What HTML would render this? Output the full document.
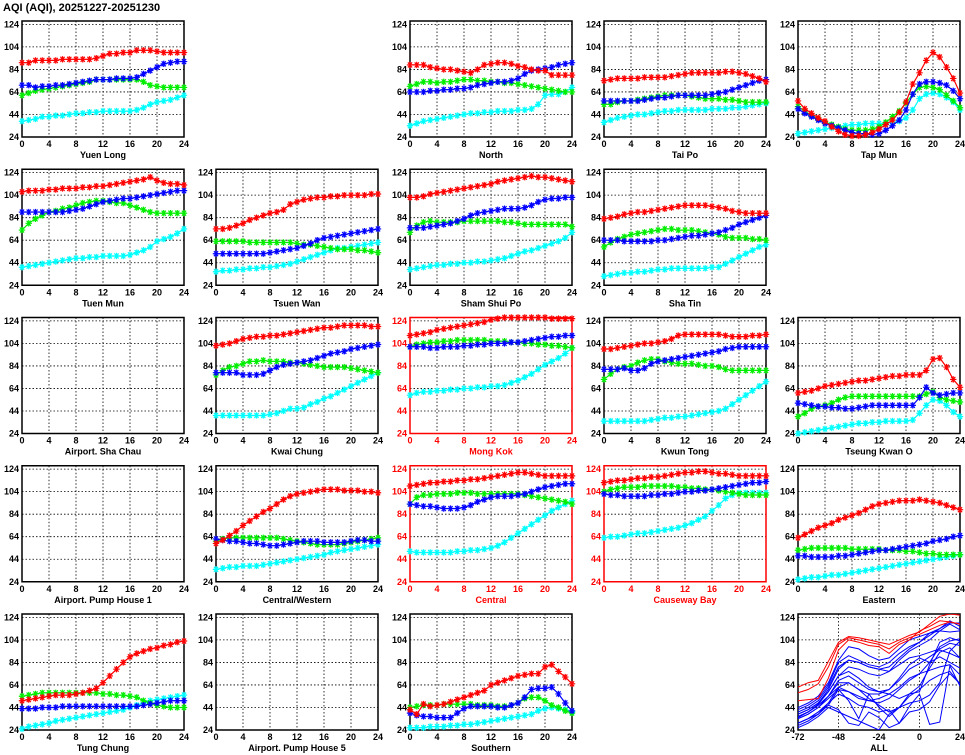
<!DOCTYPE html>
<html><head><meta charset="utf-8"><style>
body{margin:0;background:#fff;}
svg{display:block;font-family:"Liberation Sans",sans-serif;}
</style></head><body>
<svg id="chart" width="965" height="755" viewBox="0 0 965 755" xmlns="http://www.w3.org/2000/svg">
<text x="3" y="11" font-size="11" font-weight="bold">AQI (AQI), 20251227-20251230</text>
</svg>
<script>
const stationNames=["Yuen Long","North","Tai Po","Tap Mun","Tuen Mun","Tsuen Wan","Sham Shui Po","Sha Tin","Airport. Sha Chau","Kwai Chung","Mong Kok","Kwun Tong","Tseung Kwan O","Airport. Pump House 1","Central/Western","Central","Causeway Bay","Eastern","Tung Chung","Airport. Pump House 5","Southern"];
const stationRows=[0,0,0,0,1,1,1,1,2,2,2,2,2,3,3,3,3,3,4,4,4];
const stationCols=[0,2,3,4,0,1,2,3,0,1,2,3,4,0,1,2,3,4,0,1,2];
const highlighted=["Mong Kok","Central","Causeway Bay"];
const hours=[0,1,2,3,4,5,6,7,8,9,10,11,12,13,14,15,16,17,18,19,20,21,22,23,24];
const yTicks=[24,44,64,84,104,124];
const xTicks=[0,4,8,12,16,20,24];
const redValues=[
[90,90,92,92,92,92,93,93,93,93,93,94,96,98,98,99,99,101,101,101,100,99,99,99,99],
[88,88,88,86,85,84,84,83,82,81,84,88,89,90,90,89,87,86,84,83,83,79,79,79,79],
[74,75,76,76,76,76,77,77,77,77,78,79,80,81,81,81,81,81,82,82,81,80,78,76,73],
[56,49,45,41,38,33,29,26,25,25,26,28,31,35,39,46,55,71,81,92,99,95,86,76,63],
[107,108,108,108,109,109,110,110,110,111,111,112,112,113,114,115,116,117,118,120,117,115,114,114,113],
[74,74,75,77,79,82,84,86,88,89,91,96,98,100,101,102,102,103,103,104,104,104,104,105,105],
[102,102,103,105,106,107,108,109,110,111,112,113,114,116,117,118,119,120,121,120,120,119,118,117,116],
[83,84,85,87,88,89,89,90,91,92,93,94,95,95,95,95,94,93,92,90,89,88,88,88,88],
[],
[102,103,104,106,108,109,110,110,111,111,112,113,114,115,116,117,118,118,119,120,120,120,120,119,119],
[111,112,113,114,116,117,118,119,120,121,122,123,125,126,127,127,127,127,127,127,127,126,126,126,126],
[99,99,100,101,102,103,104,104,105,106,108,111,112,112,112,112,112,112,111,110,110,110,111,111,112],
[60,61,62,64,66,67,68,69,70,71,71,72,73,74,75,75,76,76,76,80,90,91,83,72,65],
[],
[58,61,65,69,74,78,82,86,89,93,97,100,102,103,104,105,106,106,106,105,105,105,104,104,103],
[109,110,111,112,112,113,113,114,114,115,115,116,117,118,119,120,121,121,120,119,118,118,118,118,118],
[112,113,114,114,115,116,116,117,117,118,119,120,121,121,122,122,121,120,120,119,118,118,118,118,118],
[63,66,69,72,74,76,79,81,83,85,88,91,93,94,95,96,96,96,97,96,95,94,92,90,88],
[50,51,52,53,54,55,55,55,56,57,59,61,66,72,78,84,89,92,94,96,97,99,100,102,103],
[],
[42,38,47,45,46,47,49,51,53,55,57,59,64,66,68,70,72,73,74,74,80,82,76,71,65]];
const blueValues=[
[70,70,68,69,69,70,70,71,72,73,74,75,75,75,76,76,76,77,80,83,86,89,90,91,91],
[64,64,64,65,65,66,66,67,67,68,70,71,72,73,73,74,76,80,83,84,85,86,88,89,90],
[56,56,56,56,56,56,57,58,59,59,60,61,61,61,61,61,62,63,64,66,68,70,72,74,75],
[49,45,42,39,36,34,32,30,28,27,27,26,27,30,34,39,48,62,71,73,73,72,70,65,58],
[89,89,89,89,89,89,89,90,91,92,94,96,98,99,100,101,101,102,103,104,105,106,107,108,108],
[52,52,52,52,52,52,52,52,53,54,55,56,57,59,61,64,66,67,68,69,70,71,72,73,74],
[75,75,75,76,77,78,79,81,83,86,88,89,90,91,92,92,92,93,95,98,100,101,101,102,102],
[64,64,64,63,63,63,63,63,64,64,65,66,67,68,68,69,70,71,73,75,78,80,82,84,86],
[],
[78,78,78,78,76,76,76,77,80,83,85,86,87,88,89,91,93,95,96,97,99,100,101,102,103],
[101,101,101,100,100,101,101,101,102,102,103,103,104,104,104,105,105,106,107,108,109,110,110,111,111],
[81,81,81,82,80,80,82,86,88,89,90,91,92,93,94,95,96,97,99,100,101,101,101,101,101],
[51,50,49,48,48,47,47,46,46,47,48,49,49,49,49,49,49,49,56,65,60,58,59,60,60],
[],
[62,61,60,60,59,58,58,57,56,56,57,58,59,60,60,60,59,59,59,59,60,61,61,60,60],
[93,92,91,91,90,89,89,89,90,92,95,97,99,100,100,100,101,102,104,106,108,109,110,111,111],
[102,101,101,100,100,100,100,101,101,102,102,103,104,104,105,105,106,107,108,109,110,111,112,112,113],
[47,47,46,46,46,46,47,47,48,49,50,51,52,52,53,54,55,56,57,58,60,61,62,64,65],
[43,43,43,44,44,44,45,45,45,45,45,45,45,45,45,45,45,45,46,47,48,49,50,50,50],
[],
[39,37,36,36,35,35,35,39,43,45,45,45,45,44,44,46,48,53,60,61,61,62,56,48,41]];
const greenValues=[
[61,63,65,66,67,68,69,70,71,72,73,75,75,75,75,75,75,75,73,70,69,68,68,68,68],
[69,71,73,73,72,73,73,74,75,75,74,74,73,73,72,72,71,70,69,68,67,66,65,64,64],
[53,53,55,56,56,57,58,59,60,61,61,61,61,60,59,58,58,58,57,57,56,55,55,55,55],
[51,47,43,40,37,35,33,31,30,30,30,31,33,37,42,47,54,62,68,69,68,66,61,56,50],
[73,79,83,86,89,90,92,93,95,97,98,99,99,98,97,97,95,93,91,89,88,88,88,88,88],
[63,63,63,63,63,62,62,62,62,62,62,62,61,60,60,59,58,57,56,56,56,55,55,54,53],
[71,77,80,81,80,80,80,80,81,81,81,81,81,81,80,80,79,78,78,78,78,78,78,78,76],
[58,62,65,67,69,70,71,72,73,74,74,73,73,73,72,71,70,69,67,66,66,66,65,65,64],
[],
[76,80,83,84,86,88,88,89,88,88,88,87,87,86,85,84,83,83,83,83,82,81,80,79,78],
[101,103,104,105,105,106,106,107,107,107,107,107,106,106,106,105,105,104,104,103,103,102,102,101,100],
[72,77,81,83,84,87,89,90,90,88,87,86,86,86,85,84,84,83,81,80,80,80,80,80,80],
[39,42,46,48,49,51,54,56,57,57,57,57,57,57,57,57,57,57,57,59,61,56,54,53,52],
[],
[60,62,63,63,63,63,63,63,63,63,62,61,60,59,58,57,57,57,57,58,59,60,61,62,63],
[93,99,101,101,102,102,102,103,103,103,102,102,102,102,102,102,102,101,100,99,98,97,96,95,93],
[104,106,107,108,108,108,109,109,109,109,109,108,108,107,107,106,106,105,104,103,102,101,101,101,101],
[52,53,54,54,54,54,54,54,53,53,53,53,53,52,52,52,51,51,50,49,49,48,48,48,48],
[54,55,56,57,57,57,57,57,57,57,57,57,56,56,55,55,54,53,50,48,46,45,44,44,44],
[],
[44,45,46,46,46,47,47,47,47,47,46,46,46,45,45,46,48,52,53,53,50,46,44,41,39]];
const cyanValues=[
[38,39,40,42,42,43,43,44,45,45,46,46,47,47,47,47,47,48,50,53,55,56,57,59,61],
[34,36,38,39,40,41,42,43,44,45,45,46,46,47,47,47,48,48,49,53,61,62,62,64,68],
[37,39,41,42,43,44,44,45,46,47,47,48,48,48,48,48,49,49,49,50,50,51,52,53,54],
[27,28,29,30,31,32,33,34,35,35,36,36,36,36,37,38,41,48,58,62,63,62,59,55,48],
[40,41,42,43,44,45,46,47,48,48,49,49,50,50,50,50,51,53,55,58,63,65,67,70,74],
[36,37,37,38,38,39,39,40,40,41,42,43,45,47,49,51,53,55,57,57,58,59,60,61,62],
[38,39,40,41,42,42,43,43,44,44,45,45,46,47,48,50,52,54,55,57,59,61,63,66,71],
[32,33,34,35,35,36,36,37,38,38,39,39,39,39,39,39,40,40,43,46,49,52,55,58,60],
[],
[40,40,40,40,40,40,40,40,41,42,44,46,46,47,50,52,55,57,60,63,66,69,72,75,78],
[58,60,61,61,62,62,63,63,64,64,65,65,66,66,67,69,71,74,77,81,85,88,91,95,100],
[35,35,35,35,35,35,35,36,37,38,38,39,39,40,41,42,43,44,46,50,54,58,62,66,70],
[24,25,26,27,28,29,30,31,32,33,33,34,34,35,35,35,35,36,42,49,54,53,49,43,39],
[],
[35,36,37,37,38,38,38,39,40,41,42,43,44,45,46,47,48,50,51,52,53,54,55,56,57],
[51,50,50,50,50,50,50,51,51,52,52,53,54,56,59,63,67,71,75,79,83,87,90,93,96],
[63,64,64,65,66,67,67,68,69,70,71,72,74,76,79,82,87,92,98,101,103,103,103,103,103],
[26,27,28,28,29,30,30,31,32,33,34,35,36,37,38,39,40,41,42,43,44,45,46,47,48],
[25,27,28,29,30,32,33,34,35,36,37,38,39,40,41,42,44,46,48,50,51,52,53,54,55],
[],
[26,26,26,27,27,27,28,28,29,29,30,31,32,33,34,35,36,37,38,41,43,44,43,42,40]];
const allHours=[-72,-66,-60,-54,-48,-42,-36,-30,-24,-18,-12,-6];
const allHistory=[
[38,42,48,60,78,86,84,80,78,76,82,88],
[35,40,47,58,72,76,70,62,58,60,70,82],
[34,38,44,52,60,58,52,50,52,56,62,70],
[30,34,40,46,42,30,28,40,35,26,30,45],
[44,48,54,66,86,98,96,90,86,88,96,104],
[36,40,46,54,62,58,54,50,48,52,60,68],
[42,46,52,64,84,90,86,82,80,84,92,98],
[36,40,46,54,66,66,60,56,56,60,68,78],
[],
[40,44,50,62,80,86,84,80,78,80,88,96],
[62,66,68,85,102,107,106,104,102,100,104,108],
[38,42,48,58,72,80,78,74,72,76,86,94],
[30,34,38,46,60,50,34,56,44,36,44,54],
[],
[34,38,44,54,68,72,66,60,58,56,52,56],
[57,60,65,80,100,106,104,102,100,96,102,106],
[50,51,52,70,95,104,102,99,98,92,100,104],
[28,32,38,48,62,66,60,52,46,40,44,56],
[26,30,36,44,40,36,32,28,24,38,44,48],
[],
[30,34,40,48,56,52,46,44,40,42,30,40]];
const allTicks=[-72,-48,-24,0,24];

const NS="http://www.w3.org/2000/svg";
const svg=document.getElementById('chart');
const PW=162, PH=116, YMIN=24, YMAX=127;
function panelX(c){return 22+194*c;}
function panelY(r){return 21+148.25*r;}
function mk(tag,attrs,parent){const e=document.createElementNS(NS,tag);for(const k in attrs)e.setAttribute(k,attrs[k]);(parent||svg).appendChild(e);return e;}

function drawFrame(g,x0,y0,xmin,xmax,xt,grid,color,name){
  const sx=v=>x0+(v-xmin)/(xmax-xmin)*PW;
  const sy=v=>y0+(YMAX-v)/(YMAX-YMIN)*PH;
  grid.forEach(v=>{if(v>xmin&&v<xmax){const l=mk('line',{x1:sx(v),x2:sx(v),y1:y0,y2:y0+PH,stroke:'#000','stroke-width':0.8,'stroke-dasharray':'1.5,2'},g);
    
    }});
  yTicks.forEach(v=>{
    if(v>YMIN){const l=mk('line',{x1:x0,x2:x0+PW,y1:sy(v),y2:sy(v),stroke:'#000','stroke-width':0.8,'stroke-dasharray':'1.5,2'},g);
      
      }
    const t=mk('text',{x:x0-3,y:sy(v)+3,'text-anchor':'end','font-size':9,'font-weight':'bold',fill:color},g);
    t.textContent=v;
    
    
  });
  xt.forEach(v=>{
    const t=mk('text',{x:sx(v),y:y0+PH+10,'text-anchor':'middle','font-size':9,'font-weight':'bold',fill:color},g);
    t.textContent=v;
    
    
  });
  const b=mk('rect',{x:x0,y:y0,width:PW,height:PH,fill:'none',stroke:color,'stroke-width':1.5},g);
  
  
  const n=mk('text',{x:x0+PW/2,y:y0+PH+21,'text-anchor':'middle','font-size':9,'font-weight':'bold',fill:color},g);
  n.textContent=name;
  
  
  return {sx,sy};
}

const seriesColors=['#ff0000','#0000ff','#00ee00','#00ffff'];
const seriesKeys=['red','blue','green','cyan'];
stationNames.forEach((name,i)=>{
  const g=mk('g',{});
  
  
  const color=highlighted.includes(name)?'#ff0000':'#000';
  const x0=panelX(stationCols[i]), y0=panelY(stationRows[i]);
  const {sx,sy}=drawFrame(g,x0,y0,0,24,xTicks,xTicks,color,name);
  const sets=[cyanValues[i],greenValues[i],blueValues[i],redValues[i]];
  const cols=[seriesColors[3],seriesColors[2],seriesColors[1],seriesColors[0]];
  const keys=[seriesKeys[3],seriesKeys[2],seriesKeys[1],seriesKeys[0]];
  sets.forEach((vals,k)=>{
    if(!vals.length)return;
    const pts=vals.map((v,h)=>sx(hours[h])+','+sy(Math.min(v,YMAX)).toFixed(1)).join(' ');
    const pl=mk('polyline',{points:pts,fill:'none',stroke:cols[k],'stroke-width':1.2},g);
    
    
    let d='';
    vals.forEach((v,h)=>{const x=sx(hours[h]),y=sy(Math.min(v,YMAX)),r=3.2;
      d+=`M${x-r},${y}H${x+r}M${x-r*0.65},${y-r*0.8}L${x+r*0.65},${y+r*0.8}M${x-r*0.65},${y+r*0.8}L${x+r*0.65},${y-r*0.8}M${x},${y-r}V${y+r}`;});
    const m=mk('path',{d:d,stroke:cols[k],'stroke-width':1.2,fill:'none'},g);
    
    
  });
});

(function(){
  const g=mk('g',{});
  
  
  const x0=panelX(4), y0=panelY(4);
  const {sx,sy}=drawFrame(g,x0,y0,-72,24,allTicks,allTicks,'#000','ALL');
  const clip=mk('clipPath',{id:'allclip'},g);
  mk('rect',{x:x0,y:y0,width:PW,height:PH},clip);
  stationNames.forEach((name,i)=>{
    if(!allHistory[i].length)return;
    const xs=allHours.concat([0,6,12,18,24]);
    const vs=allHistory[i].concat([redValues[i][0],redValues[i][6],redValues[i][12],redValues[i][18],redValues[i][24]]);
    const pts=xs.map((h,j)=>sx(h)+','+sy(vs[j]).toFixed(1)).join(' ');
    const pl=mk('polyline',{points:pts,fill:'none',stroke:highlighted.includes(name)?'#ff0000':'#0000ff','stroke-width':1,'clip-path':'url(#allclip)'},g);
    
    
  });
})();
</script>
</body></html>
